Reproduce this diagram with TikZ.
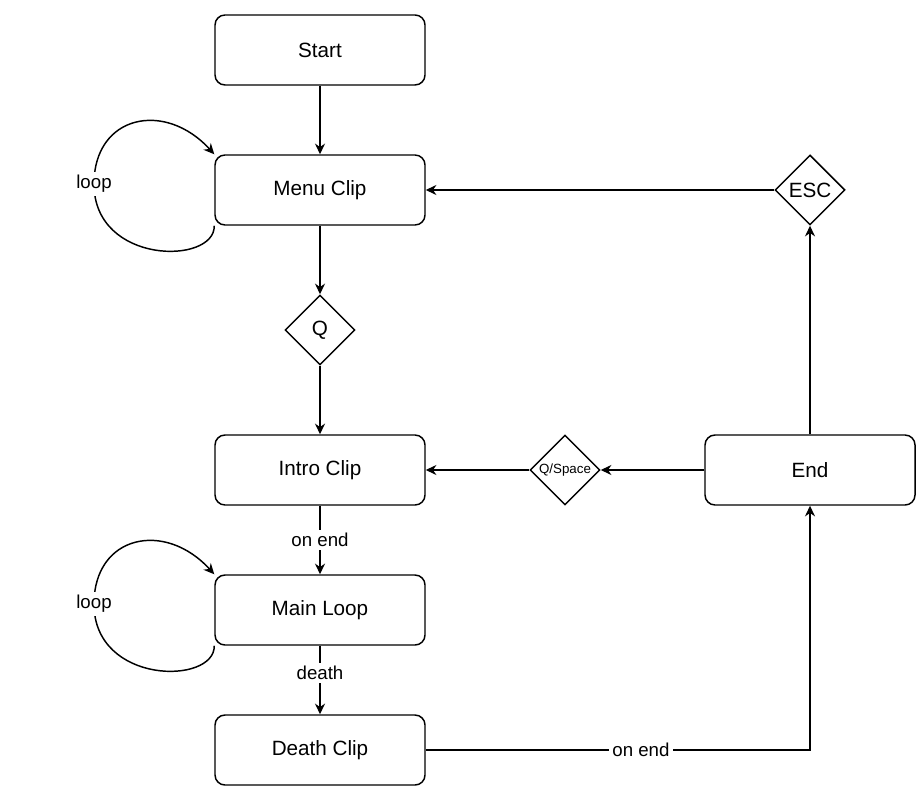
\documentclass[tikz,border=0pt]{standalone}
\usepackage{fontspec}
\setmainfont{Liberation Sans}
\usetikzlibrary{shapes.geometric,arrows.meta,positioning}

\begin{document}
\begin{tikzpicture}[x=0.75pt,y=-0.75pt,
    state/.style={draw, rounded corners=7.5pt, minimum width=157.5pt,
        minimum height=52.5pt, line width=1.1pt, font=\fontsize{15.5}{18}\selectfont},
    key/.style={draw, diamond, minimum width=52.5pt, minimum height=52.5pt,
        inner sep=0pt, line width=1.1pt, font=\fontsize{15.5}{18}\selectfont},
    edge/.style={-{Stealth[length=8pt,width=7.5pt]}, line width=1.1pt},
    lbl/.style={fill=white, inner sep=2.5pt, font=\fontsize{14}{16}\selectfont}]
    \useasboundingbox (0,0) rectangle (919,791);

    % clips
    \node[state] (start) at (320,50) {Start};
    \node[state] (menu) at (320,190) {Menu Clip};
    \node[state] (intro) at (320,470) {Intro Clip};
    \node[state] (main) at (320,610) {Main Loop};
    \node[state] (death) at (320,750) {Death Clip};
    \node[state] (end) at (810,470) {End};

    % keys
    \node[key] (q) at (320,330) {Q};
    \node[key] (esc) at (810,190) {ESC};
    \node[key, font=\fontsize{10}{12}\selectfont] (qspace) at (565,470) {Q/Space};

    \draw[edge] (start) -- (menu);
    \draw[edge] (menu) -- (q);
    \draw[edge] (q) -- (intro);
    \draw[edge] (intro) -- node[lbl] {on end} (main);
    \draw[edge] (main) -- node[lbl, pos=0.4] {death} (death);
    \draw[edge] (death.east) -| node[lbl, pos=0.28] {on end} (end.south);
    \draw[edge] (end) -- (qspace);
    \draw[edge] (qspace) -- (intro);
    \draw[edge] (end) -- (esc);
    \draw[edge] (esc) -- (menu);

    % loops
    \draw[edge] (menu.south west) .. controls (215,265) and (94,265) .. (94,184)
        node[lbl] {loop} .. controls (94,115) and (165,100) .. (menu.north west);
    \draw[edge] (main.south west) .. controls (215,685) and (94,685) .. (94,604)
        node[lbl] {loop} .. controls (94,535) and (165,520) .. (main.north west);
\end{tikzpicture}
\end{document}
